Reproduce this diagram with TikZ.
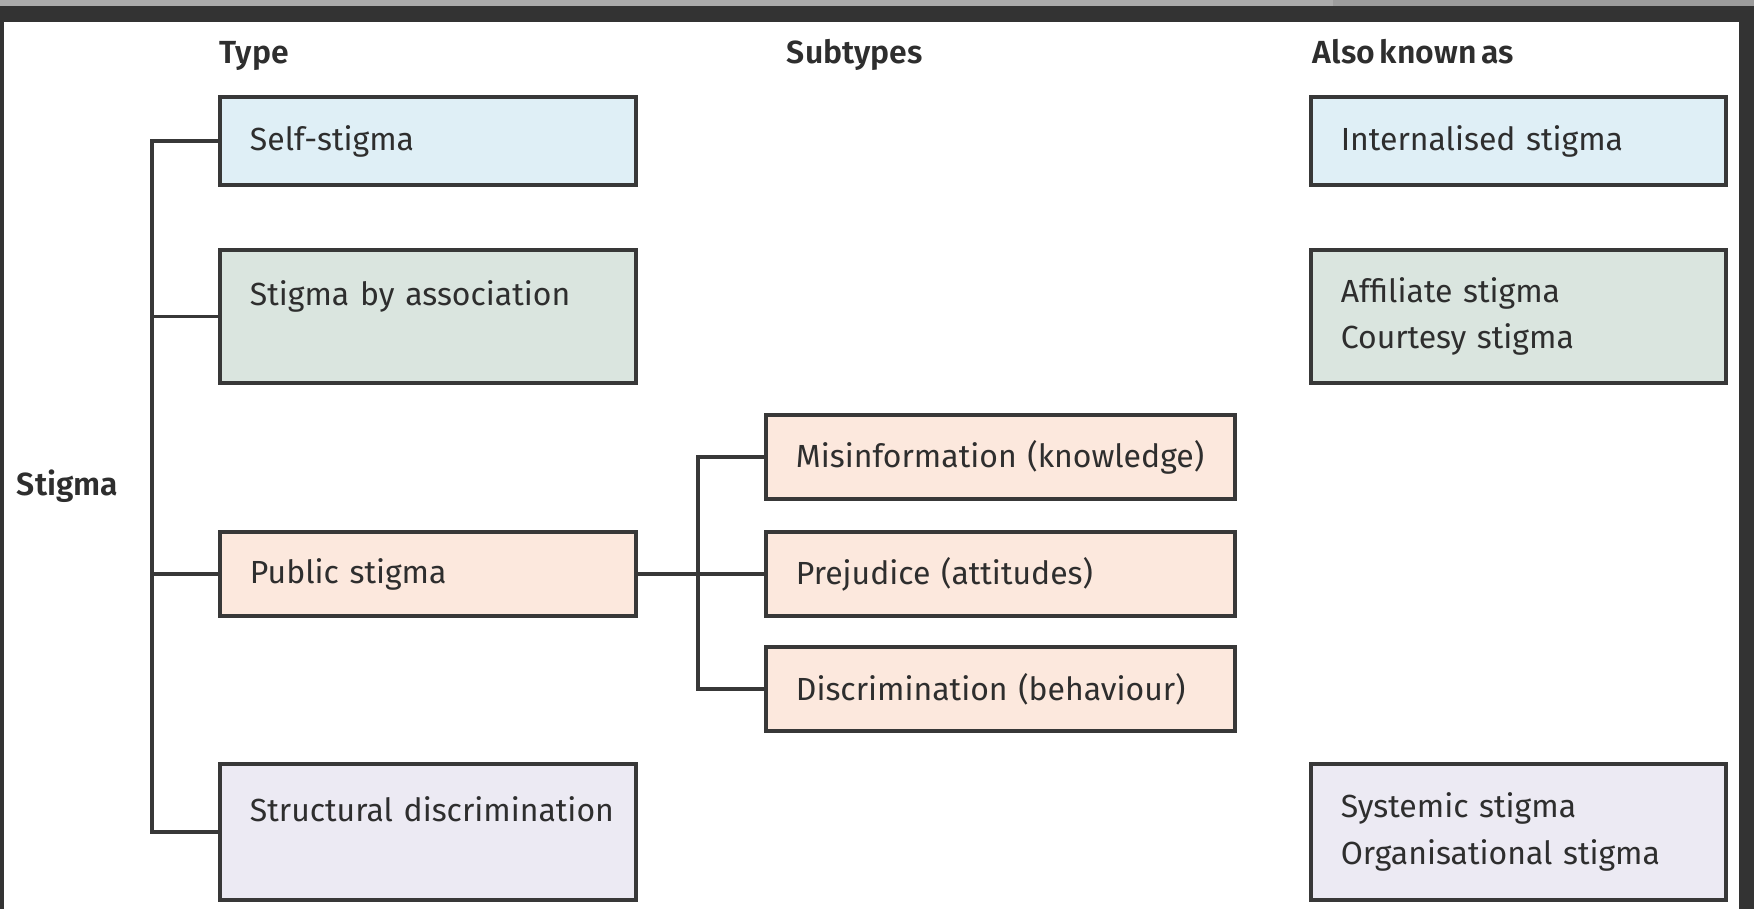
\documentclass[tikz,border=0pt]{standalone}
\usepackage{fontspec}
\setmainfont{Fira Sans}[WordSpace=0.6, BoldFont={Fira Sans SemiBold}]
\usepackage{tikz}
\usetikzlibrary{positioning}
\definecolor{selfblue}{HTML}{DFEFF6}
\definecolor{assocgreen}{HTML}{DAE5DF}
\definecolor{publicpeach}{HTML}{FCE8DD}
\definecolor{structlilac}{HTML}{ECEAF3}
\definecolor{edgegrey}{HTML}{383838}
\definecolor{inkgrey}{HTML}{2E2E2E}
\definecolor{framedark}{HTML}{333333}
\definecolor{barlight}{HTML}{ABABAB}
\definecolor{bardark}{HTML}{9C9C9C}

\begin{document}
\begin{tikzpicture}[
  line width=1.1pt,
  font=\fontsize{9.1}{13.1}\selectfont,
  text=inkgrey,
  box/.style={draw=edgegrey, rectangle, align=left, inner xsep=0.3cm, inner ysep=0pt, anchor=north west},
  typebox/.style={box, text width=3.56cm},
  subbox/.style={box, text width=4.09cm, fill=publicpeach, minimum height=0.84cm},
  akabox/.style={box, text width=3.55cm},
  heading/.style={anchor=base west, inner sep=0pt, font=\fontsize{9.1}{13.1}\selectfont\bfseries},
  link/.style={draw=edgegrey}]

  % window frame round the figure
  \fill[framedark] (0,0) rectangle (17.54,-9.09);
  \fill[barlight] (0,0) rectangle (13.33,-0.06);
  \fill[bardark] (13.33,0) rectangle (17.54,-0.06);
  \fill[white] (0.04,-0.22) rectangle (17.39,-9.09);

  % column headings
  \node[heading] (type) at (2.18,-0.63) {Type};
  \node[heading] (subtypes) at (7.85,-0.63) {Subtypes};
  \node[heading] (aka) at (13.11,-0.63) {Also known as};
  \node[heading] (stigma) at (0.15,-4.95) {Stigma};

  % types
  \node[typebox, fill=selfblue, minimum height=0.88cm] (self) at (2.18,-0.95) {Self-stigma};
  \node[typebox, fill=assocgreen, minimum height=1.33cm] (assoc) at (2.18,-2.48) {Stigma by association\\~};
  \node[typebox, fill=publicpeach, minimum height=0.84cm] (public) at (2.18,-5.30) {Public stigma};
  \node[typebox, fill=structlilac, minimum height=1.36cm] (struct) at (2.18,-7.62) {\mbox{Structural discrimination}\\~};

  % subtypes
  \node[subbox] (misinfo) at (7.64,-4.13) {Misinformation (knowledge)};
  \node[subbox] (prejudice) at (7.64,-5.30) {Prejudice (attitudes)};
  \node[subbox] (discrim) at (7.64,-6.45) {Discrimination (behaviour)};

  % other names
  \node[akabox, fill=selfblue, minimum height=0.88cm, right=6.71cm of self] (internal) {Internalised stigma};
  \node[akabox, fill=assocgreen, minimum height=1.33cm, right=6.71cm of assoc] (affiliate) {Affiliate stigma\\Courtesy stigma};
  \node[akabox, fill=structlilac, minimum height=1.36cm, right=6.71cm of struct] (systemic) {Systemic stigma\\Organisational stigma};

  % connectors
  \coordinate (trunk) at (1.52,0);
  \coordinate (subtrunk) at (6.98,0);
  \draw[link] (self.west) -- (self.west -| trunk) |- (struct.west);
  \draw[link] (assoc.west) -- (assoc.west -| trunk);
  \draw[link] (public.west) -- (public.west -| trunk);
  \draw[link] (public.east) -- (prejudice.west);
  \draw[link] (misinfo.west) -- (misinfo.west -| subtrunk) |- (discrim.west);
\end{tikzpicture}
\end{document}
